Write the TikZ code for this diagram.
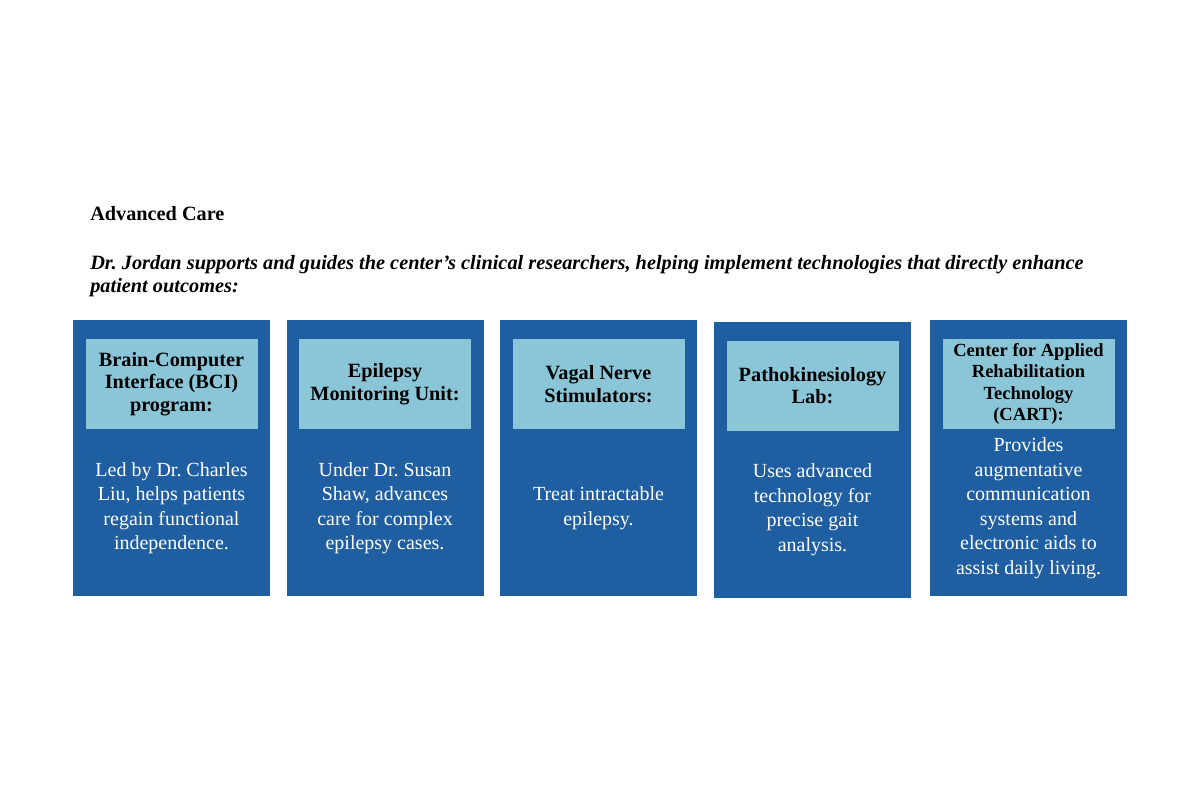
\documentclass[tikz,border=0pt]{standalone}
\usepackage{fontspec}
\setmainfont{Liberation Serif}
\usetikzlibrary{positioning}
\frenchspacing

\definecolor{cardblue}{RGB}{31,94,160}
\definecolor{headblue}{RGB}{138,198,215}

\tikzset{
  card/.style={fill=cardblue, minimum width=147.75pt, minimum height=207pt, inner sep=0pt},
  head/.style={fill=headblue, minimum width=129pt, minimum height=67.5pt, inner sep=0pt,
    align=center, font=\bfseries\fontsize{15.2}{16.9}\selectfont},
  body/.style={text=white, align=center, inner sep=0pt, font=\fontsize{15}{18.4}\selectfont}
}

\begin{document}
\begin{tikzpicture}[x=0.75pt, y=-0.75pt]
  \useasboundingbox[fill=white] (0,0) rectangle (1200,800);

  \node[anchor=base west, inner sep=0pt, font=\bfseries\fontsize{15.2}{18}\selectfont] (title) at (90,220) {Advanced Care};
  \node[anchor=north west, inner sep=0pt, align=left, font=\bfseries\itshape\fontsize{15.25}{17.2}\selectfont] (intro) at (90,255)
    {Dr. Jordan supports and guides the center’s clinical researchers, helping implement technologies that directly enhance\\patient outcomes:};

  % Brain-Computer Interface
  \node[card] (bci) at (171.5,458) {};
  \node[head, below=14.25pt of bci.north] (bcihead) {Brain-Computer\\Interface (BCI)\\program:};
  \node[body] (bcitext) at ([yshift=66pt]bci.south) {Led by Dr. Charles\\Liu, helps patients\\regain functional\\independence.};

  % Epilepsy Monitoring Unit
  \node[card] (emu) at (385,458) {};
  \node[head, below=14.25pt of emu.north] (emuhead) {Epilepsy\\Monitoring Unit:};
  \node[body] (emutext) at ([yshift=66pt]emu.south) {Under Dr. Susan\\Shaw, advances\\care for complex\\epilepsy cases.};

  % Vagal Nerve Stimulators
  \node[card] (vns) at (598.5,458) {};
  \node[head, below=14.25pt of vns.north] (vnshead) {Vagal Nerve\\Stimulators:};
  \node[body] (vnstext) at ([yshift=66pt]vns.south) {Treat intractable\\epilepsy.};

  % Pathokinesiology Lab
  \node[card] (lab) at (812.5,459.5) {};
  \node[head, below=14.25pt of lab.north] (labhead) {Pathokinesiology\\Lab:};
  \node[body] (labtext) at ([yshift=66pt]lab.south) {Uses advanced\\technology for\\precise gait\\analysis.};

  % CART
  \node[card] (cart) at (1028.5,458) {};
  \node[head, below=14.25pt of cart.north, font=\bfseries\fontsize{13.9}{16}\selectfont] (carthead)
    {Center for Applied\\Rehabilitation\\Technology\\(CART):};
  \node[body] (carttext) at ([yshift=66pt]cart.south) {Provides\\augmentative\\communication\\systems and\\electronic aids to\\assist daily living.};
\end{tikzpicture}
\end{document}
